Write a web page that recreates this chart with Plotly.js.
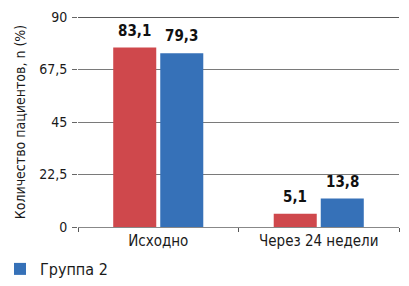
<!DOCTYPE html>
<html><head><meta charset="utf-8">
<script src="https://cdn.plot.ly/plotly-3.0.1.min.js"></script>
<style>html,body{margin:0;padding:0;background:#fff;}#c{width:409px;height:286px;}</style>
</head><body><div id="c"></div>
<script>
// Categories and series
const categories = ["Исходно", "Через 24 недели"];
const seriesNames = ["Группа 1", "Группа 2"];
const group1Heights = [76.9, 5.7];
const group2Heights = [74.5, 12.2];
// Value labels printed above the bars
const group1Labels = ["83,1", "5,1"];
const group2Labels = ["79,3", "13,8"];
// Axis ticks
const yTickVals = [0, 22.5, 45, 67.5, 90];
const yTickText = ["0", "22,5", "45", "67,5", "90"];

const FONT = "'Liberation Sans Narrow', 'DejaVu Sans Condensed', 'Arial Narrow', sans-serif";
const colors = ["#CF484C", "#3671B8"];
const W = 409, H = 286, mL = 78, mR = 10, mT = 17, mB = 59;
const bargap = 0.414, bargroupgap = 0.085;

const heights = [group1Heights, group2Heights];
const labels = [group1Labels, group2Labels];

const traces = heights.map((h, i) => ({
  type: "bar", x: categories, y: h, name: seriesNames[i],
  marker: {color: colors[i], line: {width: 0}},
  showlegend: i === 1, hoverinfo: "skip"
}));

// label annotations positioned through the axes
const plotW = W - mL - mR;
const slot = plotW / categories.length * (1 - bargap) / heights.length;
const annotations = [];
heights.forEach((h, i) => {
  h.forEach((v, j) => {
    annotations.push({
      x: categories[j], y: v, xref: "x", yref: "y",
      text: "<b>" + labels[i][j] + "</b>", showarrow: false,
      yanchor: "bottom", xanchor: "center",
      xshift: (i - (heights.length - 1) / 2) * slot, yshift: 6,
      font: {family: FONT, size: 15, color: "#111"}
    });
  });
});

const layout = {
  width: W, height: H,
  margin: {l: mL, r: mR, t: mT, b: mB, pad: 0},
  paper_bgcolor: "#fff", plot_bgcolor: "#fff",
  font: {family: FONT, size: 14, color: "#1a1a1a"},
  separators: ", ",
  bargap: bargap, bargroupgap: bargroupgap,
  xaxis: {
    type: "category", showgrid: false, zeroline: false,
    showline: true, linecolor: "#888", linewidth: 1.3,
    ticks: "outside", tickson: "boundaries", ticklen: 4, tickcolor: "#555",
    tickfont: {family: FONT, size: 15, color: "#1a1a1a"},
    fixedrange: true
  },
  yaxis: {
    range: [0, yTickVals[yTickVals.length - 1]],
    tickvals: yTickVals, ticktext: yTickText,
    showgrid: true, gridcolor: "#7a7a7a", gridwidth: 1,
    zeroline: false, showline: false,
    ticks: "outside", ticklen: 5, tickcolor: "#666",
    ticklabelstandoff: 2,
    tickfont: {family: FONT, size: 14, color: "#1a1a1a"},
    title: {text: "Количество пациентов, n (%)", font: {family: FONT, size: 14, color: "#1a1a1a"}, standoff: 10},
    fixedrange: true
  },
  shapes: [{
    type: "line", xref: "paper", yref: "y", x0: 0, x1: 1,
    y0: yTickVals[yTickVals.length - 1], y1: yTickVals[yTickVals.length - 1],
    line: {color: "#222", width: 1.3}
  }],
  annotations: annotations,
  showlegend: true,
  legend: {
    orientation: "h", xref: "container", yref: "container",
    x: 0.0, y: -0.01, xanchor: "left", yanchor: "bottom",
    font: {family: FONT, size: 16, color: "#1a1a1a"},
    bgcolor: "rgba(0,0,0,0)"
  }
};

Plotly.newPlot("c", traces, layout, {displayModeBar: false, staticPlot: true});
</script></body></html>
